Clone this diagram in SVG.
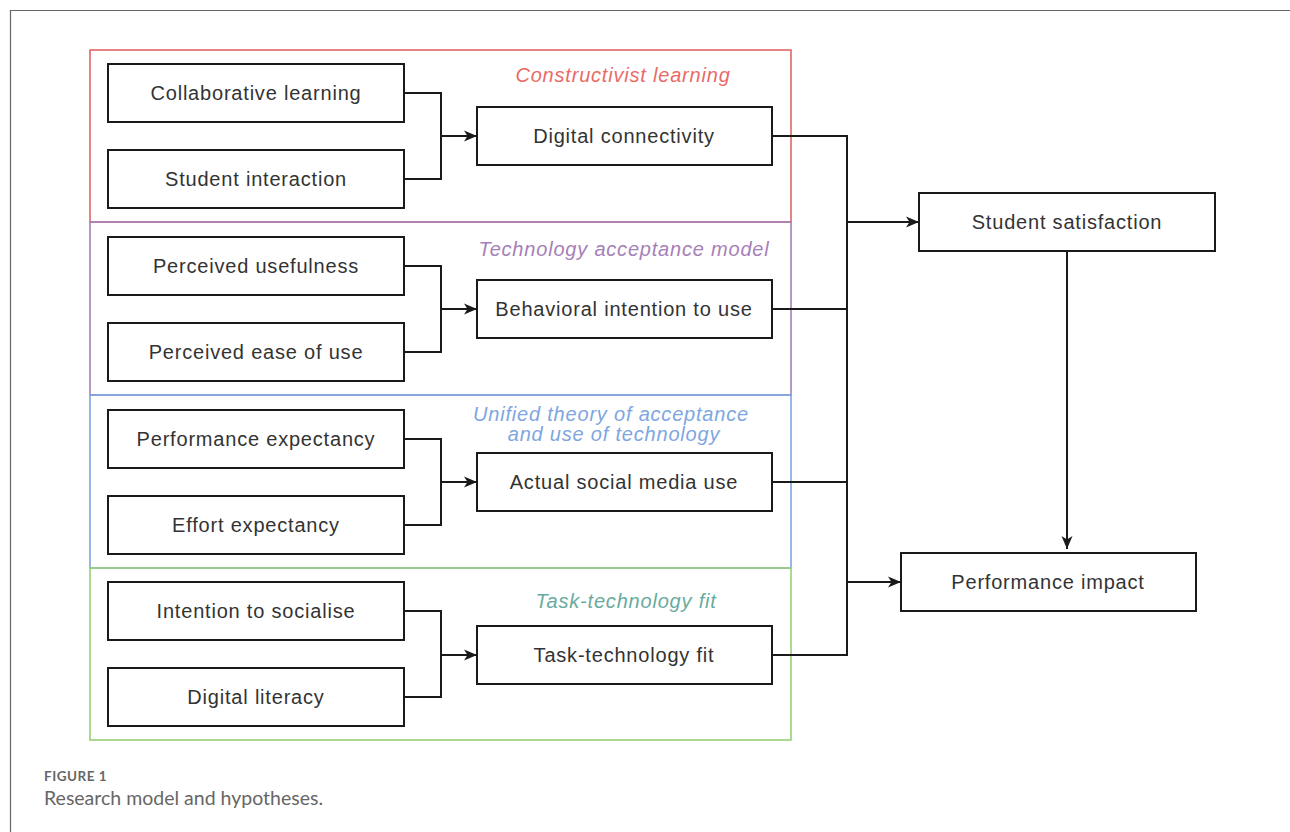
<svg xmlns="http://www.w3.org/2000/svg" width="1290" height="832" viewBox="0 0 1290 832">
<style>
.node rect{fill:#fff;stroke:#1a1a1a;stroke-width:2}
.node text{font-family:"Liberation Sans",Arial,sans-serif;font-size:20px;letter-spacing:0.8px;fill:#333;text-anchor:middle}
.sec{fill:none;stroke-width:1.6}
.title{font-family:"Liberation Sans",Arial,sans-serif;font-size:20px;letter-spacing:0.8px;font-style:italic;text-anchor:middle}
#connectors path{fill:none;stroke:#1a1a1a;stroke-width:2}
.cap{font-family:Lato,"Open Sans",sans-serif;fill:#666}
</style>
<defs>
<marker id="arr" markerUnits="userSpaceOnUse" markerWidth="14" markerHeight="14" viewBox="0 0 14 14" refX="13" refY="7" orient="auto">
<path d="M0,1.5 L13,7 L0,12.5 L3.5,7 z" fill="#1a1a1a"/>
</marker>
</defs>
<rect width="1290" height="832" fill="#fff"/>
<path d="M10.5,832 V10.5 H1290" fill="none" stroke="#666" stroke-width="1.2"/>

<g id="sections">
<rect class="sec" x="90" y="50" width="701" height="172" stroke="#e06666"/>
<rect class="sec" x="90" y="222" width="701" height="173" stroke="#a680b8"/>
<rect class="sec" x="90" y="395" width="701" height="173" stroke="#7ea6e0"/>
<rect class="sec" x="90" y="568" width="701" height="172" stroke="#97d077"/>
<text class="title" x="623" y="82" fill="#ea6b66">Constructivist learning</text>
<text class="title" x="624" y="256" fill="#a680b8">Technology acceptance model</text>
<text class="title" x="611" y="421" fill="#7ea6e0">Unified theory of acceptance</text>
<text class="title" x="614" y="441" fill="#7ea6e0">and use of technology</text>
<text class="title" x="626" y="608" fill="#67ab9f">Task-technology fit</text>
</g>

<g id="connectors">
<path d="M404,93 H441 V179 H404"/>
<path d="M441,136 H477" marker-end="url(#arr)"/>
<path d="M404,266 H441 V352 H404"/>
<path d="M441,309 H477" marker-end="url(#arr)"/>
<path d="M404,439 H441 V525 H404"/>
<path d="M441,482 H477" marker-end="url(#arr)"/>
<path d="M404,611 H441 V697 H404"/>
<path d="M441,655 H477" marker-end="url(#arr)"/>
<path d="M772,136 H847 V655 H772"/>
<path d="M772,309 H847"/>
<path d="M772,482 H847"/>
<path d="M847,222 H919" marker-end="url(#arr)"/>
<path d="M847,582 H901" marker-end="url(#arr)"/>
<path d="M1067,251 V549" marker-end="url(#arr)"/>
</g>

<g id="n-collab" class="node"><rect x="108" y="64" width="296" height="58"/><text x="256" y="100">Collaborative learning</text></g>
<g id="n-interact" class="node"><rect x="108" y="150" width="296" height="58"/><text x="256" y="186">Student interaction</text></g>
<g id="n-digconn" class="node"><rect x="477" y="107" width="295" height="58"/><text x="624" y="143">Digital connectivity</text></g>

<g id="n-useful" class="node"><rect x="108" y="237" width="296" height="58"/><text x="256" y="273">Perceived usefulness</text></g>
<g id="n-ease" class="node"><rect x="108" y="323" width="296" height="58"/><text x="256" y="359">Perceived ease of use</text></g>
<g id="n-intent" class="node"><rect x="477" y="280" width="295" height="58"/><text x="624" y="316">Behavioral intention to use</text></g>

<g id="n-perfexp" class="node"><rect x="108" y="410" width="296" height="58"/><text x="256" y="446">Performance expectancy</text></g>
<g id="n-effort" class="node"><rect x="108" y="496" width="296" height="58"/><text x="256" y="532">Effort expectancy</text></g>
<g id="n-actual" class="node"><rect x="477" y="453" width="295" height="58"/><text x="624" y="489">Actual social media use</text></g>

<g id="n-social" class="node"><rect x="108" y="582" width="296" height="58"/><text x="256" y="618">Intention to socialise</text></g>
<g id="n-literacy" class="node"><rect x="108" y="668" width="296" height="58"/><text x="256" y="704">Digital literacy</text></g>
<g id="n-ttf" class="node"><rect x="477" y="626" width="295" height="58"/><text x="624" y="662">Task-technology fit</text></g>

<g id="n-satis" class="node"><rect x="919" y="193" width="296" height="58"/><text x="1067" y="229">Student satisfaction</text></g>
<g id="n-perfimp" class="node"><rect x="901" y="553" width="295" height="58"/><text x="1048" y="589">Performance impact</text></g>

<g id="caption">
<text class="cap" x="44" y="781" font-size="13.5" font-weight="bold" letter-spacing="0.5">FIGURE 1</text>
<text class="cap" x="44" y="805" font-size="19.5">Research model and hypotheses.</text>
</g>
</svg>
